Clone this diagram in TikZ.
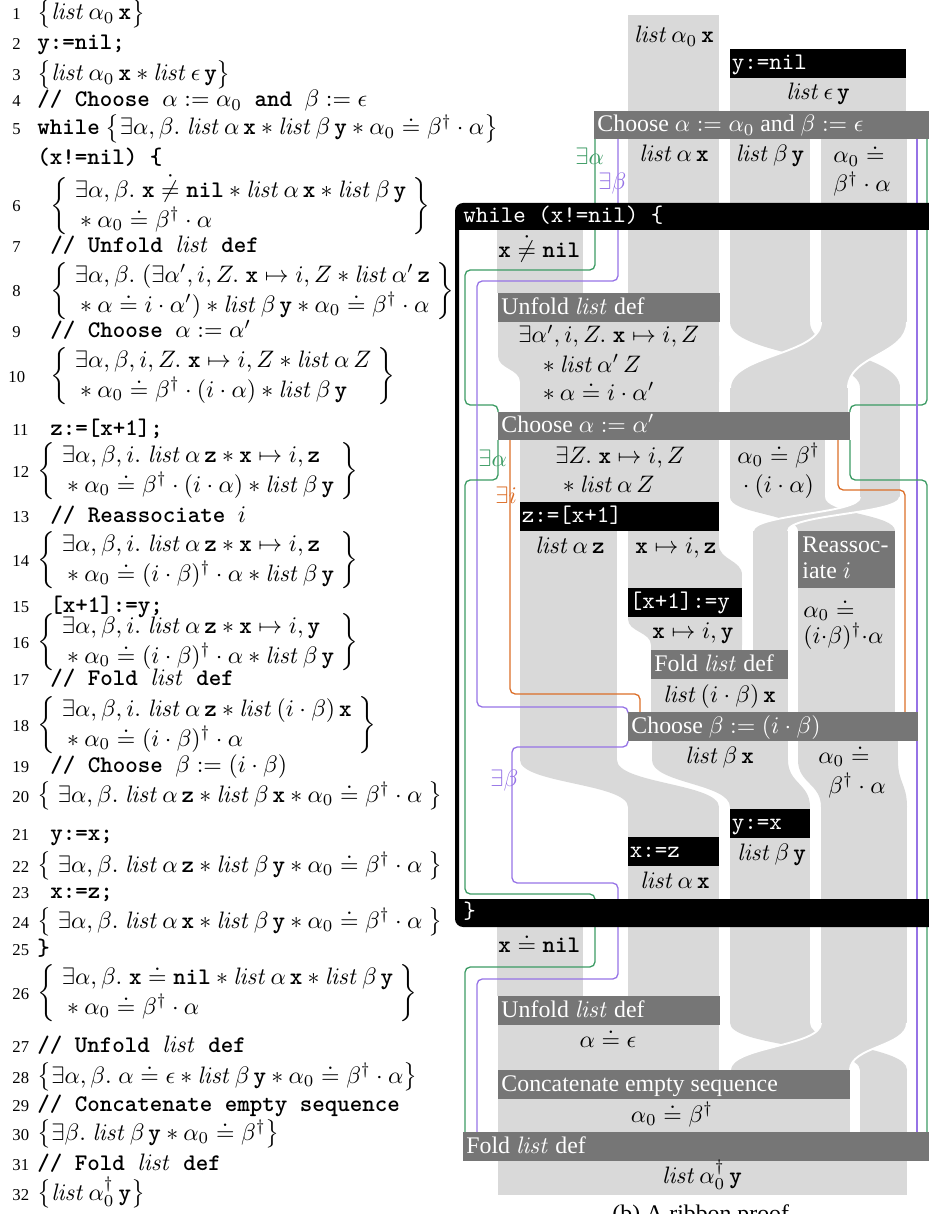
\documentclass[tikz,border=0pt]{standalone}
\usepackage[no-math]{fontspec}
\setmainfont{Liberation Serif}
\usepackage{amsmath,amssymb}

\definecolor{ribbon}{RGB}{217,217,217}
\definecolor{stepgrey}{RGB}{118,118,118}
\definecolor{exgreen}{RGB}{60,155,100}
\definecolor{expurple}{RGB}{150,115,230}
\definecolor{exorange}{RGB}{220,110,40}

\newcommand\lis{\mathit{list}\,}
\newcommand\tv[1]{\text{\ttfamily\bfseries #1}}
\newcommand\code[1]{{\ttfamily\bfseries #1}}
% two-row assertion with a fixed row pitch
\newcommand\asn[2]{$\def\arraystretch{1.05}\left\{\begin{array}{@{\;}l@{\;}}\smash{#1}\\\smash{{}#2}\end{array}\right\}$}

\tikzset{
  rib/.style={fill=ribbon},
  twistedge/.style={draw=white,line width=0.8pt},
  scopeln/.style={line width=0.55pt,rounded corners=2.2pt},
  numtext/.style={inner sep=0pt,anchor=base west,font=\scriptsize},
  codetext/.style={inner sep=0pt,anchor=base west},
  rtl/.style={inner sep=0pt,anchor=base west},
  rtc/.style={inner sep=0pt,anchor=base},
  cmdtext/.style={inner sep=0pt,anchor=base west,text=white,font=\ttfamily},
  steptext/.style={inner sep=0pt,anchor=base west,text=white},
}

% listing line: [number x]{number}{baseline}{text x}{text}
\newcommand\lline[5][12]{%
  \node[numtext] (n#2) at (#1,#3) {#2};
  \node[codetext] (l#2) at (#4,#3) {#5};}

% ribbon segment whose edges sweep from (#1..#2 at #3) to (#4..#5 at #6)
\newcommand\twist[6]{%
  \fill[rib] (#1,#3) .. controls (#1,{(#3+#6)/2}) and (#4,{(#3+#6)/2}) .. (#4,#6)
    -- (#5,#6) .. controls (#5,{(#3+#6)/2}) and (#2,{(#3+#6)/2}) .. (#2,#3) -- cycle;}
\newcommand\twistfront[6]{%
  \twist{#1}{#2}{#3}{#4}{#5}{#6}%
  \draw[twistedge] (#1,#3) .. controls (#1,{(#3+#6)/2}) and (#4,{(#3+#6)/2}) .. (#4,#6);
  \draw[twistedge] (#2,#3) .. controls (#2,{(#3+#6)/2}) and (#5,{(#3+#6)/2}) .. (#5,#6);}

% proof step bar and command box: name, x1, y1, x2, y2, text
\newcommand\stepbar[6]{%
  \fill[stepgrey] (#2,#3) rectangle (#4,#5);
  \node[steptext] (#1) at ({#2+3},{#5-7.5}) {#6};}
\newcommand\cmdbox[6]{%
  \fill[black] (#2,#3) rectangle (#4,#5);
  \node[cmdtext] (#1) at ({#2+1.5},{#5-8.5}) {#6};}

\begin{document}
\begin{tikzpicture}[x=0.42pt,y=-0.42pt]
\useasboundingbox (0,0) rectangle (928,1214);

% ---------------- proof outline ----------------
\lline{1}{20}{37}{$\bigl\{\lis\alpha_0\,\tv{x}\bigr\}$}
\lline{2}{50}{37}{\code{y:=nil;}}
\lline{3}{81}{37}{$\bigl\{\lis\alpha_0\,\tv{x}\ast\lis\epsilon\,\tv{y}\bigr\}$}
\lline{4}{107}{37}{\code{// Choose $\alpha:=\alpha_0$ and $\beta:=\epsilon$}}
\lline{5}{135}{37}{\code{while} $\bigl\{\exists\alpha,\beta.\;\lis\alpha\,\tv{x}\ast\lis\beta\,\tv{y}\ast\alpha_0\doteq\beta^\dagger\cdot\alpha\bigr\}$}
\node[codetext] (l5b) at (37,165) {\code{(x!=nil) \{}};
\lline{6}{212}{50}{\asn{\exists\alpha,\beta.\;\tv{x}\mathrel{\dot{\neq}}\tv{nil}\ast\lis\alpha\,\tv{x}\ast\lis\beta\,\tv{y}}{\ast\alpha_0\doteq\beta^\dagger\cdot\alpha}}
\lline{7}{253}{50}{\code{// Unfold $\mathit{list}$ def}}
\lline{8}{297}{50}{\asn{\exists\alpha,\beta.\;(\exists\alpha',i,Z.\;\tv{x}\mapsto i,Z\ast\lis\alpha'\,\tv{z}}{\ast\alpha\doteq i\cdot\alpha')\ast\lis\beta\,\tv{y}\ast\alpha_0\doteq\beta^\dagger\cdot\alpha}}
\lline{9}{338}{50}{\code{// Choose $\alpha:=\alpha'$}}
\lline[8]{10}{382}{50}{\asn{\exists\alpha,\beta,i,Z.\;\tv{x}\mapsto i,Z\ast\lis\alpha\,Z}{\ast\alpha_0\doteq\beta^\dagger\cdot(i\cdot\alpha)\ast\lis\beta\,\tv{y}}}
\lline{11}{435}{50}{\code{z:=[x+1];}}
\lline{12}{477}{37}{\asn{\exists\alpha,\beta,i.\;\lis\alpha\,\tv{z}\ast\tv{x}\mapsto i,\tv{z}}{\ast\alpha_0\doteq\beta^\dagger\cdot(i\cdot\alpha)\ast\lis\beta\,\tv{y}}}
\lline{13}{522}{50}{\code{// Reassociate $i$}}
\lline{14}{566}{37}{\asn{\exists\alpha,\beta,i.\;\lis\alpha\,\tv{z}\ast\tv{x}\mapsto i,\tv{z}}{\ast\alpha_0\doteq(i\cdot\beta)^\dagger\cdot\alpha\ast\lis\beta\,\tv{y}}}
\lline{15}{612}{50}{\code{[x+1]:=y;}}
\lline{16}{648}{37}{\asn{\exists\alpha,\beta,i.\;\lis\alpha\,\tv{z}\ast\tv{x}\mapsto i,\tv{y}}{\ast\alpha_0\doteq(i\cdot\beta)^\dagger\cdot\alpha\ast\lis\beta\,\tv{y}}}
\lline{17}{685}{50}{\code{// Fold $\mathit{list}$ def}}
\lline{18}{731}{37}{\asn{\exists\alpha,\beta,i.\;\lis\alpha\,\tv{z}\ast\lis(i\cdot\beta)\,\tv{x}}{\ast\alpha_0\doteq(i\cdot\beta)^\dagger\cdot\alpha}}
\lline{19}{772}{50}{\code{// Choose $\beta:=(i\cdot\beta)$}}
\lline{20}{802}{37}{$\bigl\{\;\exists\alpha,\beta.\;\lis\alpha\,\tv{z}\ast\lis\beta\,\tv{x}\ast\alpha_0\doteq\beta^\dagger\cdot\alpha\;\bigr\}$}
\lline{21}{840}{50}{\code{y:=x;}}
\lline{22}{872}{37}{$\bigl\{\;\exists\alpha,\beta.\;\lis\alpha\,\tv{z}\ast\lis\beta\,\tv{y}\ast\alpha_0\doteq\beta^\dagger\cdot\alpha\;\bigr\}$}
\lline{23}{898}{50}{\code{x:=z;}}
\lline{24}{928}{37}{$\bigl\{\;\exists\alpha,\beta.\;\lis\alpha\,\tv{x}\ast\lis\beta\,\tv{y}\ast\alpha_0\doteq\beta^\dagger\cdot\alpha\;\bigr\}$}
\lline{25}{955}{37}{\code{\}}}
\lline{26}{999}{37}{\asn{\exists\alpha,\beta.\;\tv{x}\doteq\tv{nil}\ast\lis\alpha\,\tv{x}\ast\lis\beta\,\tv{y}}{\ast\alpha_0\doteq\beta^\dagger\cdot\alpha}}
\lline{27}{1052}{37}{\code{// Unfold $\mathit{list}$ def}}
\lline{28}{1083}{37}{$\bigl\{\exists\alpha,\beta.\;\alpha\doteq\epsilon\ast\lis\beta\,\tv{y}\ast\alpha_0\doteq\beta^\dagger\cdot\alpha\bigr\}$}
\lline{29}{1111}{37}{\code{// Concatenate empty sequence}}
\lline{30}{1140}{37}{$\bigl\{\exists\beta.\;\lis\beta\,\tv{y}\ast\alpha_0\doteq\beta^\dagger\bigr\}$}
\lline{31}{1170}{37}{\code{// Fold $\mathit{list}$ def}}
\lline{32}{1200}{37}{$\bigl\{\lis\alpha_0^\dagger\,\tv{y}\bigr\}$}

% ---------------- ribbons ----------------
% before the loop
\fill[rib] (628,15) rectangle (719,111);
\fill[rib] (730,78) rectangle (906,111);
\fill[rib] (628,139) rectangle (719,293);
\fill[rib] (730,139) rectangle (810,322);
\fill[rib] (821,139) rectangle (907,322);
% loop body
\fill[rib] (497,230) rectangle (583,293);
\fill[rib] (498,322) rectangle (719,356);
\twist{498}{719}{356}{520}{719}{382}
\fill[rib] (520,382) rectangle (719,412);
\twist{730}{810}{322}{860}{900}{388}
\twistfront{821}{907}{322}{730}{848}{388}
\fill[rib] (730,388) rectangle (848,412);
\fill[rib] (860,388) rectangle (900,497);
\fill[rib] (520,440) rectangle (719,502);
\fill[rib] (730,440) rectangle (825,497);
\twist{730}{825}{497}{798}{895}{531}
\twistfront{860}{900}{497}{753}{788}{531}
\fill[rib] (753,531) rectangle (788,650);
\fill[rib] (798,588) rectangle (895,712);
\fill[rib] (520,531) rectangle (617,760);
\twist{520}{617}{760}{628}{719}{807}
\fill[rib] (628,807) rectangle (719,996);
\fill[rib] (628,531) rectangle (719,545);
\twist{628}{719}{545}{628}{742}{575}
\fill[rib] (628,575) rectangle (742,619);
\twist{628}{742}{619}{651}{742}{645}
\fill[rib] (651,645) rectangle (742,650);
\fill[rib] (651,679) rectangle (788,712);
\fill[rib] (652,741) rectangle (788,760);
\twist{652}{788}{760}{730}{810}{807}
\fill[rib] (730,807) rectangle (810,1023);
\fill[rib] (798,741) rectangle (898,760);
\twist{798}{898}{760}{821}{907}{807}
\fill[rib] (821,807) rectangle (907,1023);
% after the loop
\fill[rib] (497,927) rectangle (583,996);
\fill[rib] (498,1025) rectangle (719,1070);
\twist{730}{810}{1023}{860}{907}{1070}
\twistfront{821}{907}{1023}{730}{850}{1070}
\fill[rib] (860,1070) rectangle (907,1132);
\fill[rib] (498,1099) rectangle (850,1132);
\fill[rib] (498,1161) rectangle (907,1195);

% ---------------- existential scopes ----------------
\draw[scopeln,exgreen] (595,139) -- (595,270) -- (465,270) -- (465,405) -- (498,405) -- (498,412);
\draw[scopeln,exgreen] (927,139) -- (927,405) -- (850,405) -- (850,412);
\draw[scopeln,expurple] (618,139) -- (618,281) -- (477,281) -- (477,707) -- (628,707) -- (628,712);
\draw[scopeln,expurple] (917,139) -- (917,712);
\draw[scopeln,exgreen] (498,440) -- (498,480) -- (465,480) -- (465,894) -- (595,894) -- (595,967) -- (465,967) -- (465,1132);
\draw[scopeln,exgreen] (850,440) -- (850,480) -- (927,480) -- (927,1132);
\draw[scopeln,exorange] (510,440) -- (510,694) -- (640,694) -- (640,712);
\draw[scopeln,exorange] (838,440) -- (838,490) -- (905,490) -- (905,712);
\draw[scopeln,expurple] (628,741) -- (628,747) -- (512,747) -- (512,883) -- (618,883) -- (618,979) -- (477,979) -- (477,1132);
\draw[scopeln,expurple] (917,741) -- (917,1132);

\node[rtl,text=exgreen] (exa1) at (575,165) {$\exists\alpha$};
\node[rtl,text=expurple] (exb1) at (598,190) {$\exists\beta$};
\node[rtl,text=exgreen] (exa2) at (478,466) {$\exists\alpha$};
\node[rtl,text=exorange] (exi) at (495,503) {$\exists i$};
\node[rtl,text=expurple] (exb2) at (490,786) {$\exists\beta$};

% ---------------- commands and steps ----------------
\cmdbox{ynil}{730}{49}{906}{78}{y:=nil}
\stepbar{chooseab}{594}{111}{940}{139}{Choose $\alpha := \alpha_0$ and $\beta := \epsilon$}
\stepbar{unfoldA}{498}{293}{720}{322}{Unfold $\mathit{list}$ def}
\stepbar{chooseA}{498}{412}{850}{440}{Choose $\alpha := \alpha'$}
\cmdbox{zload}{520}{502}{719}{531}{z:=[x+1]}
\fill[stepgrey] (798,531) rectangle (895,588);
\node[steptext] (reassocA) at (802,552) {Reassoc-};
\node[steptext] (reassocB) at (802,578) {iate $i$};
\cmdbox{ystore}{628}{588}{742}{617}{[x+1]:=y}
\stepbar{foldA}{651}{650}{788}{679}{Fold $\mathit{list}$ def}
\stepbar{chooseB}{628}{712}{918}{741}{Choose $\beta := (i\cdot\beta)$}
\cmdbox{yx}{730}{809}{810}{838}{y:=x}
\cmdbox{xz}{628}{837}{719}{866}{x:=z}
\stepbar{unfoldB}{498}{996}{720}{1025}{Unfold $\mathit{list}$ def}
\stepbar{concat}{498}{1070}{850}{1099}{Concatenate empty sequence}
\stepbar{foldB}{463}{1132}{940}{1161}{Fold $\mathit{list}$ def}

% while loop frame
\fill[black,even odd rule,rounded corners=3.4pt] (945,203) -- (455,203) -- (455,927) -- (945,927) -- cycle
  [sharp corners] (459,230) rectangle (945,899);
\node[cmdtext] (whilehead) at (463,223) {while (x!=nil) \{};
\node[cmdtext] (whileend) at (463,918) {\}};

% ---------------- assertions in the ribbons ----------------
\node[rtc] (r1) at (674,43) {$\lis\alpha_0\,\tv{x}$};
\node[rtc] (r2) at (818,100) {$\lis\epsilon\,\tv{y}$};
\node[rtc] (r3) at (674,162) {$\lis\alpha\,\tv{x}$};
\node[rtc] (r4) at (770,162) {$\lis\beta\,\tv{y}$};
\node[rtl] (r5a) at (833,163) {$\alpha_0\doteq$};
\node[rtl] (r5b) at (833,192) {$\beta^\dagger\cdot\alpha$};
\node[rtl] (r6) at (498,258) {$\tv{x}\mathrel{\dot{\neq}}\tv{nil}$};
\node[rtl] (r7a) at (518,343) {$\exists\alpha',i,Z.\;\tv{x}\mapsto i,Z$};
\node[rtl] (r7b) at (537,372) {${}\ast\lis\alpha'\,Z$};
\node[rtl] (r7c) at (537,400) {${}\ast\alpha\doteq i\cdot\alpha'$};
\node[rtl] (r8a) at (555,463) {$\exists Z.\;\tv{x}\mapsto i,Z$};
\node[rtl] (r8b) at (557,492) {${}\ast\lis\alpha\,Z$};
\node[rtl] (r9a) at (737,463) {$\alpha_0\doteq\beta^\dagger$};
\node[rtl] (r9b) at (737,492) {${}\cdot(i\cdot\alpha)$};
\node[rtl] (r10) at (535,553) {$\lis\alpha\,\tv{z}$};
\node[rtl] (r11) at (635,553) {$\tv{x}\mapsto i,\tv{z}$};
\node[rtl] (r12) at (652,638) {$\tv{x}\mapsto i,\tv{y}$};
\node[rtl] (r13a) at (803,617) {$\alpha_0\doteq$};
\node[rtl] (r13b) at (803,643) {$(i{\cdot}\beta)^\dagger{\cdot}\alpha$};
\node[rtl] (r14) at (663,702) {$\lis(i\cdot\beta)\,\tv{x}$};
\node[rtl] (r15) at (685,763) {$\lis\beta\,\tv{x}$};
\node[rtl] (r16a) at (818,763) {$\alpha_0\doteq$};
\node[rtl] (r16b) at (828,793) {$\beta^\dagger\cdot\alpha$};
\node[rtl] (r17) at (737,860) {$\lis\beta\,\tv{y}$};
\node[rtl] (r18) at (640,888) {$\lis\alpha\,\tv{x}$};
\node[rtl] (r19) at (498,952) {$\tv{x}\doteq\tv{nil}$};
\node[rtc] (r20) at (608,1047) {$\alpha\doteq\epsilon$};
\node[rtc] (r21) at (672,1122) {$\alpha_0\doteq\beta^\dagger$};
\node[rtc] (r22) at (702,1183) {$\lis\alpha_0^\dagger\,\tv{y}$};

\node[rtl] (caption) at (612,1221) {(b) A ribbon proof};
\end{tikzpicture}
\end{document}
